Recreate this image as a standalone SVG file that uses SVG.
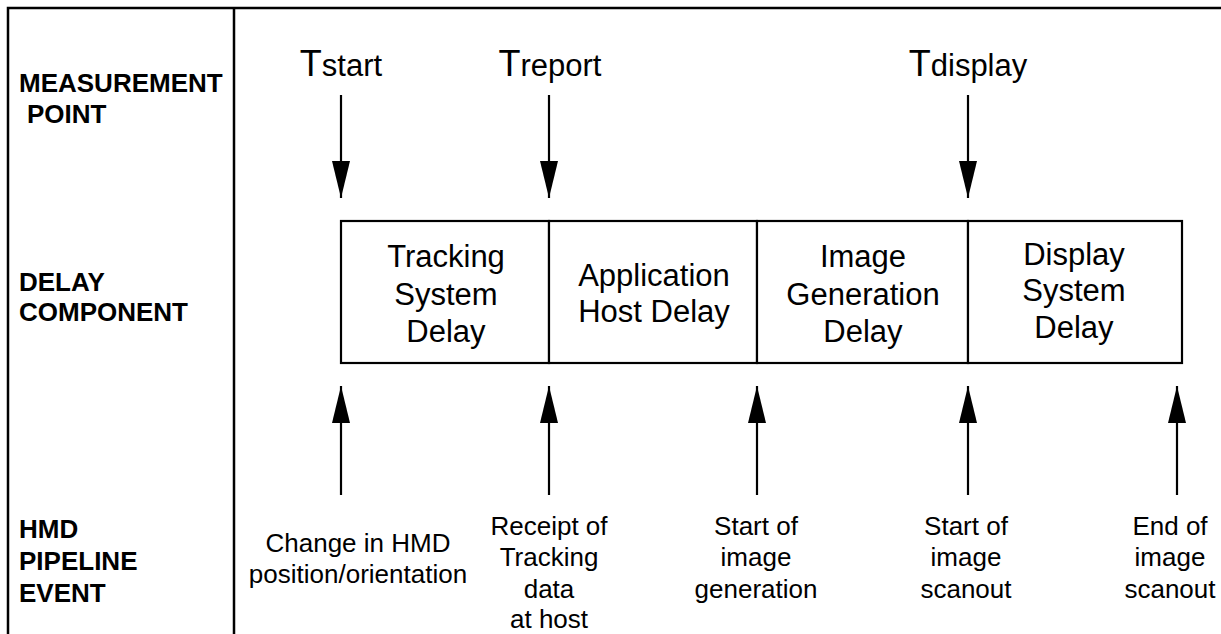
<svg xmlns="http://www.w3.org/2000/svg" width="1221" height="634" viewBox="0 0 1221 634">
  <style>
    .frame { stroke: #000; stroke-width: 2.5; fill: none; }
    .row { font-family: "Liberation Sans", Arial, sans-serif; font-weight: bold; font-size: 26px; fill: #000; }
    .tlabel { font-family: "Liberation Sans", Arial, sans-serif; font-size: 31px; fill: #000; text-anchor: middle; }
    .tcap { font-size: 36px; }
    .box { stroke: #000; stroke-width: 2.2; fill: #fff; }
    .boxtext { font-family: "Liberation Sans", Arial, sans-serif; font-size: 31px; fill: #000; text-anchor: middle; }
    .event { font-family: "Liberation Sans", Arial, sans-serif; font-size: 26px; fill: #000; text-anchor: middle; }
    .arrow { stroke: #000; stroke-width: 2.2; fill: none; marker-end: url(#head); }
  </style>
  <defs>
    <marker id="head" markerUnits="userSpaceOnUse" markerWidth="38" markerHeight="18" refX="37" refY="9" orient="auto" viewBox="0 0 38 18">
      <path d="M0,0 L37,9 L0,18 z" fill="#000"/>
    </marker>
  </defs>

  <rect width="1221" height="634" fill="#fff"/>

  <!-- table frame -->
  <g id="frame">
    <path class="frame" d="M8,634 V8 H1221"/>
    <path class="frame" d="M234,8 V634"/>
  </g>

  <!-- row headings -->
  <g id="row-measurement">
    <text class="row" x="19" y="92">MEASUREMENT</text>
    <text class="row" x="27" y="123">POINT</text>
  </g>
  <g id="row-delay">
    <text class="row" x="19" y="291">DELAY</text>
    <text class="row" x="19" y="321">COMPONENT</text>
  </g>
  <g id="row-event">
    <text class="row" x="19" y="538">HMD</text>
    <text class="row" x="19" y="570">PIPELINE</text>
    <text class="row" x="19" y="602">EVENT</text>
  </g>

  <!-- measurement points -->
  <g id="t-start">
    <text class="tlabel" x="341" y="76"><tspan class="tcap">T</tspan>start</text>
  </g>
  <g id="t-report">
    <text class="tlabel" x="550" y="76"><tspan class="tcap">T</tspan>report</text>
  </g>
  <g id="t-display">
    <text class="tlabel" x="968" y="76"><tspan class="tcap">T</tspan>display</text>
  </g>

  <!-- delay components -->
  <g id="tracking-delay">
    <rect class="box" x="341" y="221" width="208" height="142"/>
    <text class="boxtext" x="446" y="267">Tracking</text>
    <text class="boxtext" x="446" y="305">System</text>
    <text class="boxtext" x="446" y="342">Delay</text>
  </g>
  <g id="host-delay">
    <rect class="box" x="549" y="221" width="208" height="142"/>
    <text class="boxtext" x="654" y="286">Application</text>
    <text class="boxtext" x="654" y="322">Host Delay</text>
  </g>
  <g id="generation-delay">
    <rect class="box" x="757" y="221" width="211" height="142"/>
    <text class="boxtext" x="863" y="267">Image</text>
    <text class="boxtext" x="863" y="305">Generation</text>
    <text class="boxtext" x="863" y="342">Delay</text>
  </g>
  <g id="display-delay">
    <rect class="box" x="968" y="221" width="214" height="142"/>
    <text class="boxtext" x="1074" y="265">Display</text>
    <text class="boxtext" x="1074" y="301">System</text>
    <text class="boxtext" x="1074" y="338">Delay</text>
  </g>

  <!-- pipeline events -->
  <g id="ev-change">
    <text class="event" x="358" y="552">Change in HMD</text>
    <text class="event" x="358" y="583">position/orientation</text>
  </g>
  <g id="ev-receipt">
    <text class="event" x="549" y="535">Receipt of</text>
    <text class="event" x="549" y="566">Tracking</text>
    <text class="event" x="549" y="598">data</text>
    <text class="event" x="549" y="628">at host</text>
  </g>
  <g id="ev-generation">
    <text class="event" x="756" y="535">Start of</text>
    <text class="event" x="756" y="566">image</text>
    <text class="event" x="756" y="598">generation</text>
  </g>
  <g id="ev-scanout-start">
    <text class="event" x="966" y="535">Start of</text>
    <text class="event" x="966" y="566">image</text>
    <text class="event" x="966" y="598">scanout</text>
  </g>
  <g id="ev-scanout-end">
    <text class="event" x="1170" y="535">End of</text>
    <text class="event" x="1170" y="566">image</text>
    <text class="event" x="1170" y="598">scanout</text>
  </g>

  <!-- connectors -->
  <g id="connectors">
    <line class="arrow" x1="341" y1="95" x2="341" y2="198"/>
    <line class="arrow" x1="549" y1="95" x2="549" y2="198"/>
    <line class="arrow" x1="968" y1="95" x2="968" y2="198"/>
    <line class="arrow" x1="341" y1="495" x2="341" y2="386"/>
    <line class="arrow" x1="549" y1="495" x2="549" y2="386"/>
    <line class="arrow" x1="757" y1="495" x2="757" y2="386"/>
    <line class="arrow" x1="968" y1="495" x2="968" y2="386"/>
    <line class="arrow" x1="1177" y1="495" x2="1177" y2="386"/>
  </g>
</svg>
